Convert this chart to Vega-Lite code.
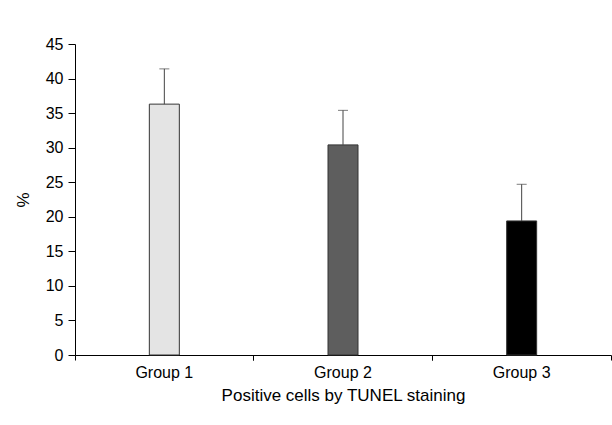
{
  "$schema": "https://vega.github.io/schema/vega-lite/v6.json",
  "width": 536,
  "height": 311,
  "autosize": {"type": "none"},
  "padding": {"left": 75, "top": 44, "right": 1, "bottom": 70},
  "background": "white",
  "config": {
    "view": {"stroke": null},
    "font": "Liberation Sans",
    "axis": {"labelFont": "Liberation Sans", "titleFont": "Liberation Sans", "labelColor": "#000", "titleColor": "#000", "domainColor": "#000", "tickColor": "#000", "grid": false, "labelFontSize": 16, "titleFontSize": 17, "titleFontWeight": "normal", "labelOverlap": false}
  },
  "data": {
    "values": [
      {"group": "Group 1", "value": 36.3, "upper": 41.4, "shade": "g1"},
      {"group": "Group 2", "value": 30.4, "upper": 35.4, "shade": "g2"},
      {"group": "Group 3", "value": 19.4, "upper": 24.7, "shade": "g3"}
    ]
  },
  "layer": [
    {
      "mark": {"type": "bar", "stroke": "#333", "strokeWidth": 1, "width": 30},
      "encoding": {
        "x": {"field": "group", "type": "nominal", "sort": null,
              "scale": {"paddingInner": 0, "paddingOuter": 0},
              "axis": {"title": "Positive cells by TUNEL staining", "labelAngle": 0, "bandPosition": 0, "tickSize": 5, "labelPadding": 4, "titlePadding": 7, "domainWidth": 1}},
        "y": {"field": "value", "type": "quantitative",
              "scale": {"domain": [0, 45], "nice": false},
              "axis": {"title": "%", "values": [0, 5, 10, 15, 20, 25, 30, 35, 40, 45], "labelOverlap": false, "tickSize": 7, "labelPadding": 5, "titlePadding": 13, "titleAngle": -90}},
        "color": {"field": "shade", "type": "nominal", "legend": null,
                  "scale": {"domain": ["g1", "g2", "g3"], "range": ["#e4e4e4", "#5e5e5e", "#000000"]}}
      }
    },
    {
      "mark": {"type": "rule", "color": "#444", "strokeWidth": 1},
      "encoding": {
        "x": {"field": "group", "type": "nominal", "sort": null,
              "axis": {"orient": "bottom", "title": null, "labels": false, "domain": false, "bandPosition": 1, "tickSize": 5}},
        "y": {"field": "value", "type": "quantitative", "axis": {"title": "%", "values": [0, 5, 10, 15, 20, 25, 30, 35, 40, 45]}},
        "y2": {"field": "upper"}
      }
    },
    {
      "mark": {"type": "tick", "color": "#444", "thickness": 1, "size": 10, "orient": "horizontal"},
      "encoding": {
        "x": {"field": "group", "type": "nominal", "sort": null, "axis": null},
        "y": {"field": "upper", "type": "quantitative", "axis": {"title": "%", "values": [0, 5, 10, 15, 20, 25, 30, 35, 40, 45]}}
      }
    }
  ],
  "resolve": {"axis": {"x": "independent"}}
}
